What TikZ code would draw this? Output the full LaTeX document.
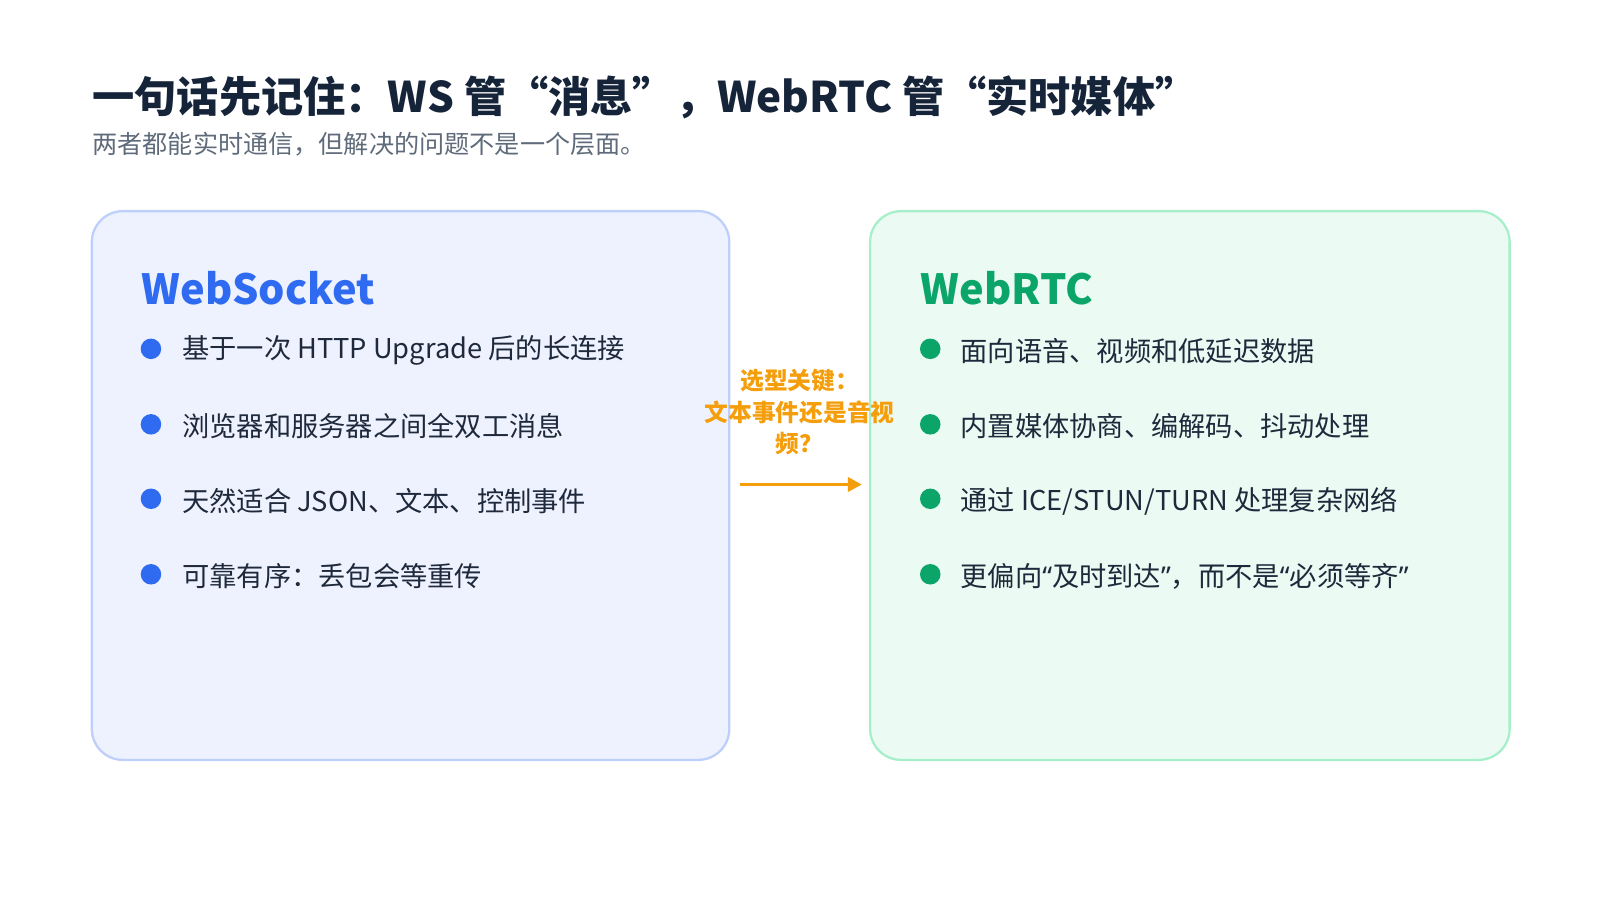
\documentclass[tikz,border=0pt]{standalone}
\usepackage{fontspec}
\setmainfont{Noto Sans CJK SC}
\newfontfamily\latinq{Noto Sans}
\newcommand\oq{{\latinq “}}
\newcommand\cq{{\latinq ”}}
\usetikzlibrary{arrows.meta}
\definecolor{ttl}{HTML}{16243A}
\definecolor{sub}{HTML}{5F6B7A}
\definecolor{bfill}{HTML}{EEF2FE}
\definecolor{bline}{HTML}{BFCFFB}
\definecolor{gfill}{HTML}{EBFBF3}
\definecolor{gline}{HTML}{A7EFCB}
\definecolor{blue}{HTML}{2F6BF0}
\definecolor{green}{HTML}{0BA56A}
\definecolor{orng}{HTML}{F59E0B}
\definecolor{txt}{HTML}{1E293B}
\begin{document}
\begin{tikzpicture}[x=0.0102cm,y=-0.0102cm,
  card/.style={rounded corners=0.31cm,line width=0.65pt},
  head/.style={anchor=west,font=\fontsize{11.8}{13}\selectfont\bfseries,inner sep=0},
  item/.style={anchor=west,font=\fontsize{7.75}{9}\selectfont,text=txt,inner sep=0},
  dot/.style={circle,inner sep=0,minimum size=0.205cm}]
\useasboundingbox (0,0) rectangle (1568.6,882.35);
\node[anchor=west,inner sep=0,text=ttl,font=\fontsize{12}{14}\selectfont\bfseries] (title) at (90,95) {一句话先记住：WS 管“消息”，WebRTC 管“实时媒体”};
\node[anchor=west,inner sep=0,text=sub,font=\fontsize{7.15}{8}\selectfont] (subt) at (90,141) {两者都能实时通信，但解决的问题不是一个层面。};
\draw[card,fill=bfill,draw=bline] (90,207) rectangle (715,745);
\draw[card,fill=gfill,draw=gline] (853,207) rectangle (1480,745);
\node[head,text=blue] (h1) at (138,283) {WebSocket};
\node[head,text=green] (h2) at (902,283) {WebRTC};
\foreach \y/\t [count=\i] in {344/{基于一次 HTTP Upgrade 后的长连接},418/{浏览器和服务器之间全双工消息},491/{天然适合 JSON、文本、控制事件},565/{可靠有序：丢包会等重传}}{
  \node[dot,fill=blue] (ld\i) at (148,\y-2) {};
  \node[item] (lt\i) at (178,\y) {\t};}
\foreach \y/\t [count=\i] in {344/{面向语音、视频和低延迟数据},418/{内置媒体协商、编解码、抖动处理},491/{通过 ICE/STUN/TURN 处理复杂网络},565/{更偏向\oq 及时到达\cq ，而不是\oq 必须等齐\cq}}{
  \node[dot,fill=green] (rd\i) at (912,\y-2) {};
  \node[item] (rt\i) at (941,\y) {\t};}
\node[align=center,text=orng,font=\fontsize{6.75}{9}\selectfont\bfseries,inner sep=0] (mid) at (784,404) {选型关键：\\文本事件还是音视\\频？};
\coordinate (a1) at (725,475);
\coordinate (a2) at (845,475);
\draw[orng,line width=1pt,-{Triangle[length=4pt,width=4pt]}] (a1) -- (a2);
\end{tikzpicture}
\end{document}
